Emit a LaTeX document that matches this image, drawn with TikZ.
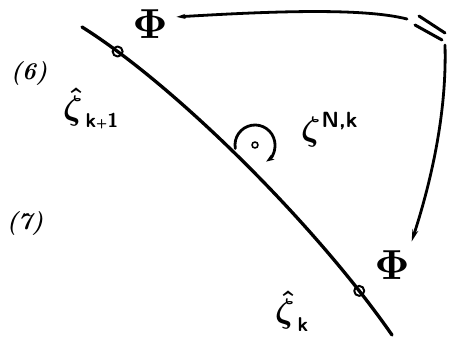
\documentclass[tikz,border=0pt]{standalone}
\usepackage{amsmath}
\usepackage{graphicx}
\usetikzlibrary{arrows.meta,calc}
\newcommand{\smallplus}{{\fontsize{13}{13}\selectfont+}}
\begin{document}
\begin{tikzpicture}[x=1pt,y=1pt, line cap=round, line join=round,
  phi/.style={inner sep=5pt, outer sep=4pt},
  num/.style={inner sep=0pt, font=\fontsize{24}{24}\selectfont\bfseries\itshape},
  lbl/.style={inner sep=0pt, anchor=base west},
  idx/.style={font=\fontsize{20}{20}\selectfont\bfseries\sffamily},
  curve/.style={line width=3.3pt},
  conn/.style={line width=2.8pt},
  ringdot/.style={circle, draw, line width=2pt, minimum size=10pt, inner sep=0pt},
  eqstroke/.style={line width=3pt}
]
\useasboundingbox (0,0) rectangle (464,345);

% Phi nodes
\node[phi] (phiA) at (150,321) {\scalebox{4.2}{\boldmath$\Phi$}};
\node[phi] (phiB) at (392,80) {\scalebox{4.2}{\boldmath$\Phi$}};

% labels
\node[lbl] (z1) at (63,225) {\scalebox{3.4}{\boldmath$\hat{\zeta}$}\kern3pt\raisebox{-8pt}{\fontsize{20}{20}\selectfont\bfseries\sffamily k\smallplus1}};
\node[lbl] (z2) at (301,204) {\scalebox{3.4}{\boldmath$\zeta$}\kern1pt\raisebox{13pt}{\fontsize{22}{22}\selectfont\bfseries\sffamily N,k}};
\node[lbl] (z3) at (275,22) {\scalebox{3.4}{\boldmath$\hat{\zeta}$}\kern3pt\raisebox{-9pt}{\fontsize{20}{20}\selectfont\bfseries\sffamily k}};
\node[num] (n6) at (29,272) {(6)};
\node[num] (n7) at (25,122) {(7)};

% main curve with two marked points
\draw[curve] (82,318) .. controls (176,259) and (315.6,120) .. (392,10)
  node[ringdot, pos=0.12] (p1) {} node[ringdot, pos=0.87] (p2) {};

% rotation symbol
\coordinate (rot) at (255,200);
\draw[conn, -{Stealth[length=8pt,width=6pt]}] ($(rot)+(190:20)$) arc[start angle=190, end angle=-56, radius=20];
\node[circle, draw, line width=1.6pt, minimum size=6pt, inner sep=0pt] (dot) at (rot) {};

% equality marks
\coordinate (eq) at (430,317);
\draw[eqstroke] ($(eq)+(-11,12)$) -- ($(eq)+(15,-5)$);
\draw[eqstroke] ($(eq)+(-15,3)$) -- ($(eq)+(12,-12)$);

% arrows
\coordinate (a1) at (407,326);
\coordinate (a2) at (445,300);
\draw[conn, -{Stealth[length=9pt,width=5pt]}] (a1) .. controls (360,338) and (260,333) .. (phiA.15);
\draw[conn, -{Stealth[length=12pt,width=6pt]}] (a2) .. controls (447,230) and (430,160) .. (phiB.50);
\end{tikzpicture}
\end{document}
